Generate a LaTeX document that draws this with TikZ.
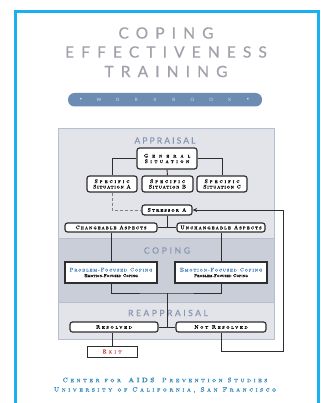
\documentclass[tikz,border=0pt]{standalone}
\usepackage{fontspec}
\setmainfont{lmroman10-regular.otf}[BoldFont=lmroman10-bold.otf,ItalicFont=lmroman10-italic.otf,SmallCapsFont=lmromancaps10-regular.otf]
\newfontfamily\titlefont{Lato}
\usetikzlibrary{arrows.meta}
\definecolor{cyanb}{HTML}{1AAFEF}
\definecolor{titleg}{HTML}{A0A1AA}
\definecolor{pill}{HTML}{6D8CB4}
\definecolor{pillt}{HTML}{D8DFEA}
\definecolor{bandl}{HTML}{E2E4EA}
\definecolor{bandd}{HTML}{C9CED8}
\definecolor{panelb}{HTML}{B5BFCE}
\definecolor{labelc}{HTML}{8797B2}
\definecolor{boxc}{HTML}{2E2E30}
\definecolor{bluet}{HTML}{4F86C0}
\definecolor{exitr}{HTML}{D0403C}
\definecolor{foot}{HTML}{3A8DBE}
\newcommand{\ls}[2]{{\addfontfeatures{LetterSpace=#1,FakeBold=0.9}#2}}
\newcommand{\lsl}[2]{{\addfontfeatures{LetterSpace=#1,FakeBold=0.4}#2}}
\newcommand{\lt}[2]{{\addfontfeatures{LetterSpace=#1,FakeBold=0.5}#2}}
\tikzset{
  bx/.style={draw=boxc, line width=1.2pt, rounded corners=2.5pt, fill=white, inner sep=0pt, align=center, font=\fontsize{5.3}{6}\selectfont\scshape},
  cbx/.style={draw=boxc, line width=1.2pt, fill=white, inner sep=0pt, align=center, font=\fontsize{5.3}{6.5}\selectfont\scshape},
  conn/.style={draw=boxc, line width=0.9pt},
  ttl/.style={font=\titlefont\fontsize{15.5}{15.5}\selectfont, text=titleg, inner sep=0pt},
  plabel/.style={font=\titlefont\fontsize{8.5}{8.5}\selectfont, text=labelc, inner sep=0pt},
  pl/.style={text=pillt, font=\titlefont\fontsize{4.5}{4.5}\selectfont, inner sep=0pt},
  ft/.style={font=\fontsize{6.5}{6.5}\selectfont\scshape, text=foot, inner sep=0pt}
}
\begin{document}
\begin{tikzpicture}[x=1pt,y=-1pt]
\useasboundingbox (0,0) rectangle (322,403);
\fill[white] (0,0) rectangle (322,403);
\draw[cyanb, line width=3pt] (15.5,405) -- (15.5,11.5) -- (318.5,11.5) -- (318.5,405);
% title
\node[ttl] (t1) at (166,33) {\lt{46}{COPING}};
\node[ttl] (t2) at (166,52) {\lt{46}{EFFECTIVENESS}};
\node[ttl] (t3) at (166,71.5) {\lt{46}{TRAINING}};
% workbook pill
\fill[pill, rounded corners=6.5pt] (68,93) rectangle (262,106.5);
\node[pl] (d1) at (81,99.8) {\textbullet};
\node[pl] (d2) at (248,99.8) {\textbullet};
\foreach \c [count=\i from 0] in {W,O,R,K,B,O,O,K}
  \node[pl] (w\i) at (99+\i*18.7,99.8) {\c};
% panel
\fill[bandl] (58,129) rectangle (274,339);
\fill[bandd] (58,238) rectangle (274,302);
\draw[panelb, line width=1pt] (58,129) rectangle (274,339);
\draw[panelb, line width=0.6pt] (58,238) -- (274,238) (58,302) -- (274,302);
\node[plabel] (la) at (165,140.5) {\lt{25}{APPRAISAL}};
\node[plabel] (lc) at (167,250.5) {\lt{32}{COPING}};
\node[plabel] (lr) at (168,313) {\lt{30}{REAPPRAISAL}};
% boxes
\node[bx, minimum width=60pt, minimum height=21pt] (gen) at (167,158.5) {\ls{75}{General}\\[-0.5pt]\ls{45}{Situation}};
\node[bx, minimum width=50pt, minimum height=16pt] (spa) at (112,184) {\ls{36}{Specific}\\[-0.5pt]\ls{12}{Situation A}};
\node[bx, minimum width=51pt, minimum height=16pt] (spb) at (167.5,184) {\ls{36}{Specific}\\[-0.5pt]\ls{12}{Situation B}};
\node[bx, minimum width=50pt, minimum height=16pt] (spc) at (222,184) {\ls{36}{Specific}\\[-0.5pt]\ls{12}{Situation C}};
\node[bx, minimum width=50pt, minimum height=10pt] (str) at (167,210) {\ls{20}{Stressor A}};
\node[bx, minimum width=92pt, minimum height=9pt] (cha) at (111,227.5) {\ls{18}{Changeable Aspects}};
\node[bx, minimum width=88pt, minimum height=9pt] (unc) at (221,227.5) {\ls{20}{Unchangeable Aspects}};
\node[cbx, minimum width=92pt, minimum height=21pt] (pfc) at (111,272.5) {\textcolor{bluet}{\ls{14}{Problem-Focused Coping}}\\[-1pt]{\fontsize{4.2}{5}\selectfont\lsl{0}{Emotion-Focused Coping}}};
\node[cbx, minimum width=92pt, minimum height=21pt] (efc) at (221,272.5) {\textcolor{bluet}{\ls{14}{Emotion-Focused Coping}}\\[-1pt]{\fontsize{4.2}{5}\selectfont\lsl{0}{Problem-Focused Coping}}};
\node[bx, minimum width=88pt, minimum height=10pt] (res) at (114,327) {\ls{30}{Resolved}};
\node[bx, minimum width=90pt, minimum height=10pt] (nres) at (221,327) {\ls{30}{Not Resolved}};
\node[cbx, line width=1pt, minimum width=50pt, minimum height=11pt, text=exitr] (exit) at (112,351.5) {\ls{45}{Exit}};
% connectors
\coordinate (jc) at (167,227.5);
\coordinate (jp) at (167,293);
\coordinate (jr) at (167,327);
\coordinate (fb1) at (283,351);
\coordinate (fb2) at (283,210);
\draw[conn] (gen.west) -| (spa.north);
\draw[conn] (gen.east) -| (spc.north);
\draw[conn] (gen.south) -- (spb.north);
\draw[gray, line width=0.8pt, dash pattern=on 3pt off 2pt] (spa.south) |- (str.west);
\draw[conn] (str.south) -- (jc);
\draw[conn] (cha.east) -- (unc.west);
\draw[conn] (cha.south) -- (pfc.north);
\draw[conn] (unc.south) -- (efc.north);
\draw[conn] (pfc.south) |- (jp) -| (efc.south);
\draw[conn] (jp) -- (jr);
\draw[conn] (res.east) -- (nres.west);
\draw[conn] (res.south -| exit.north) -- (exit.north);
\draw[conn, -{Stealth[length=4.5pt,width=4pt]}] (nres.south) |- (fb1) -- (fb2) -- (str.east);
% footer
\node[ft] (f1) at (165,380) {\ls{39}{Center for \textbf{\upshape AIDS} Prevention Studies}};
\node[ft] (f2) at (165,390) {\ls{39}{University of California, San Francisco}};
\end{tikzpicture}
\end{document}
